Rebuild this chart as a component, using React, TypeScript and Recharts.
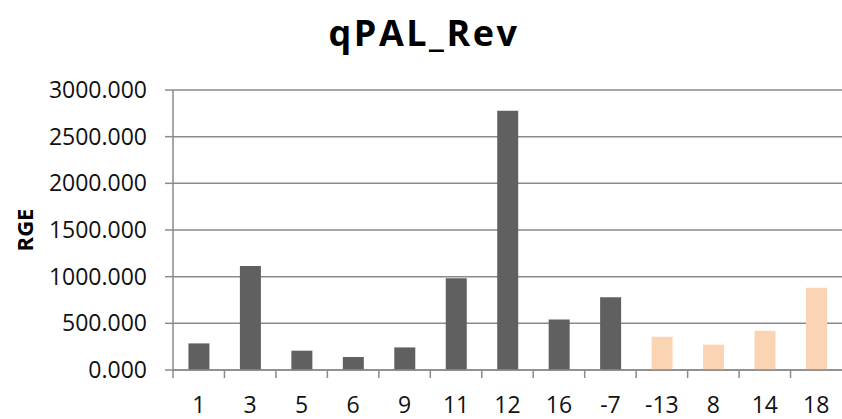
import React from "react";
import { BarChart, Bar, XAxis, YAxis, CartesianGrid, Cell } from "recharts";

const categories = ["1", "3", "5", "6", "9", "11", "12", "16", "-7", "-13", "8", "14", "18"];
const rgeValues = [285, 1115, 207, 139, 242, 983, 2779, 542, 780, 356, 271, 420, 880];
const groupFlags = [0, 0, 0, 0, 0, 0, 0, 0, 0, 1, 1, 1, 1];
const yTicks = [0, 500, 1000, 1500, 2000, 2500, 3000];

const CHART_W = 842;
const CHART_H = 419;
const Y_AXIS_W = 173;
const FONT = "'Open Sans', 'Liberation Sans', sans-serif";
const AXIS_GRAY = "#8a8a8a";
const groupColors = ["#606060", "#fbd4b4"];

const data = categories.map((name, i) => ({
  name,
  value: rgeValues[i],
  group: groupFlags[i],
}));

const halfBand = (CHART_W - Y_AXIS_W) / categories.length / 2;

const XTick = (props: any) => {
  const { x, y, payload } = props;
  return (
    <g>
      <line
        x1={x - halfBand}
        x2={x - halfBand}
        y1={y - 8}
        y2={y}
        stroke={AXIS_GRAY}
        strokeWidth={1.5}
      />
      <text
        x={x}
        y={y + 35}
        textAnchor="middle"
        fontSize={23}
        fontFamily={FONT}
        fill="#111"
      >
        {payload.value}
      </text>
    </g>
  );
};

export default function App() {
  return (
    <div
      style={{
        position: "absolute",
        left: 0,
        top: 0,
        width: CHART_W,
        height: CHART_H,
        background: "#fff",
        fontFamily: FONT,
      }}
    >
      <div
        style={{
          position: "absolute",
          left: 424,
          top: 32,
          transform: "translate(-50%, -50%)",
          fontSize: 36,
          fontWeight: 700,
          letterSpacing: 2.5,
          whiteSpace: "nowrap",
          color: "#000",
        }}
      >
        qPAL_Rev
      </div>
      <div
        style={{
          position: "absolute",
          left: 24,
          top: 230,
          transform: "translate(-50%, -50%) rotate(-90deg)",
          fontSize: 22,
          fontWeight: 700,
          whiteSpace: "nowrap",
          color: "#000",
        }}
      >
        RGE
      </div>
      <BarChart
        width={CHART_W}
        height={CHART_H}
        data={data}
        margin={{ top: 90, right: 0, bottom: 0, left: 0 }}
        barCategoryGap="30%"
      >
        <CartesianGrid vertical={false} stroke={AXIS_GRAY} strokeWidth={1.5} />
        <XAxis
          dataKey="name"
          height={49}
          interval={0}
          tickSize={8}
          tickMargin={0}
          tickLine={false}
          axisLine={{ stroke: AXIS_GRAY, strokeWidth: 1.5 }}
          tick={<XTick />}
        />
        <YAxis
          width={Y_AXIS_W}
          domain={[0, 3000]}
          ticks={yTicks}
          interval={0}
          tickSize={8}
          tickMargin={18}
          tickFormatter={(v: number) => v.toFixed(3)}
          tick={{ fontSize: 23, fontFamily: FONT, fill: "#111" }}
          tickLine={{ stroke: AXIS_GRAY, strokeWidth: 1.5 }}
          axisLine={{ stroke: AXIS_GRAY, strokeWidth: 1.5 }}
        />
        <Bar dataKey="value" isAnimationActive={false}>
          {data.map((d, i) => (
            <Cell key={i} fill={groupColors[d.group]} />
          ))}
        </Bar>
      </BarChart>
    </div>
  );
}
